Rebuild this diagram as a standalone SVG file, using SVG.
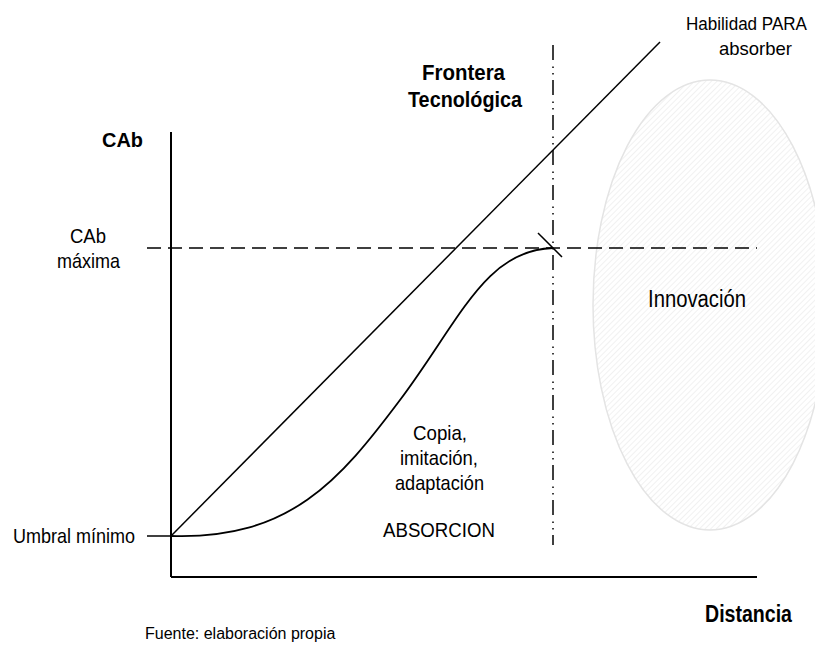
<svg xmlns="http://www.w3.org/2000/svg" width="815" height="646" viewBox="0 0 815 646">
<style>
.t{font-family:"Liberation Sans Narrow","Arial Narrow","Liberation Sans",Arial,sans-serif;fill:#000}
.b{font-weight:bold}
.ln{stroke:#000;fill:none}
</style>
<defs>
<pattern id="hatch" patternUnits="userSpaceOnUse" width="4" height="4" patternTransform="rotate(45)">
<rect width="4" height="4" fill="#fff"/>
<line x1="0" y1="0" x2="0" y2="4" stroke="#e6e6e6" stroke-width="1.1"/>
</pattern>
</defs>
<rect width="815" height="646" fill="#fff"/>
<g id="innovacion">
<ellipse cx="710" cy="305" rx="117" ry="225" fill="url(#hatch)" stroke="#e4e4e4" stroke-width="1.5"/>
<text class="t" x="648" y="307" font-size="23" textLength="98" lengthAdjust="spacingAndGlyphs">Innovación</text>
</g>
<g id="connectors">
<line class="ln" x1="171" y1="132" x2="171" y2="577" stroke-width="2"/>
<line class="ln" x1="171" y1="577" x2="757" y2="577" stroke-width="2"/>
<line class="ln" x1="147" y1="536" x2="171" y2="536" stroke-width="1.5"/>
<line class="ln" x1="147" y1="248" x2="757" y2="248" stroke-width="1.5" stroke-dasharray="14 7"/>
<line class="ln" x1="553" y1="45" x2="553" y2="545" stroke-width="1.5" stroke-dasharray="15 6.5 1.5 5 1.5 5.5"/>
<line class="ln" x1="171" y1="536" x2="660" y2="42" stroke-width="1.5"/>
<path class="ln" d="M171,536 C290,540 340,480 400,400 S485,250 553,248" stroke-width="1.8"/>
<line class="ln" x1="538" y1="233" x2="562" y2="257" stroke-width="1.5"/>
</g>
<g id="labels">
<text class="t" x="686" y="30" font-size="17.5" textLength="121" lengthAdjust="spacingAndGlyphs">Habilidad PARA</text>
<text class="t" x="719" y="55" font-size="19" textLength="73" lengthAdjust="spacingAndGlyphs">absorber</text>
<text class="t b" x="422" y="80" font-size="22" textLength="83" lengthAdjust="spacingAndGlyphs">Frontera</text>
<text class="t b" x="408" y="107" font-size="22" textLength="114" lengthAdjust="spacingAndGlyphs">Tecnológica</text>
<text class="t b" x="102" y="147" font-size="20" textLength="41" lengthAdjust="spacingAndGlyphs">CAb</text>
<text class="t" x="70" y="243" font-size="21" textLength="36" lengthAdjust="spacingAndGlyphs">CAb</text>
<text class="t" x="57" y="268" font-size="21" textLength="63" lengthAdjust="spacingAndGlyphs">máxima</text>
<text class="t" x="413" y="440" font-size="21" textLength="54" lengthAdjust="spacingAndGlyphs">Copia,</text>
<text class="t" x="400" y="465" font-size="21" textLength="78" lengthAdjust="spacingAndGlyphs">imitación,</text>
<text class="t" x="395" y="490" font-size="21" textLength="89" lengthAdjust="spacingAndGlyphs">adaptación</text>
<text class="t" x="383" y="537" font-size="20" textLength="112" lengthAdjust="spacingAndGlyphs">ABSORCION</text>
<text class="t" x="13" y="543" font-size="21" textLength="122" lengthAdjust="spacingAndGlyphs">Umbral mínimo</text>
<text class="t b" x="705" y="622" font-size="23" textLength="87" lengthAdjust="spacingAndGlyphs">Distancia</text>
<text x="145" y="639" font-size="16" font-family="'Liberation Sans',Arial,sans-serif">Fuente: elaboración propia</text>
</g>
</svg>
